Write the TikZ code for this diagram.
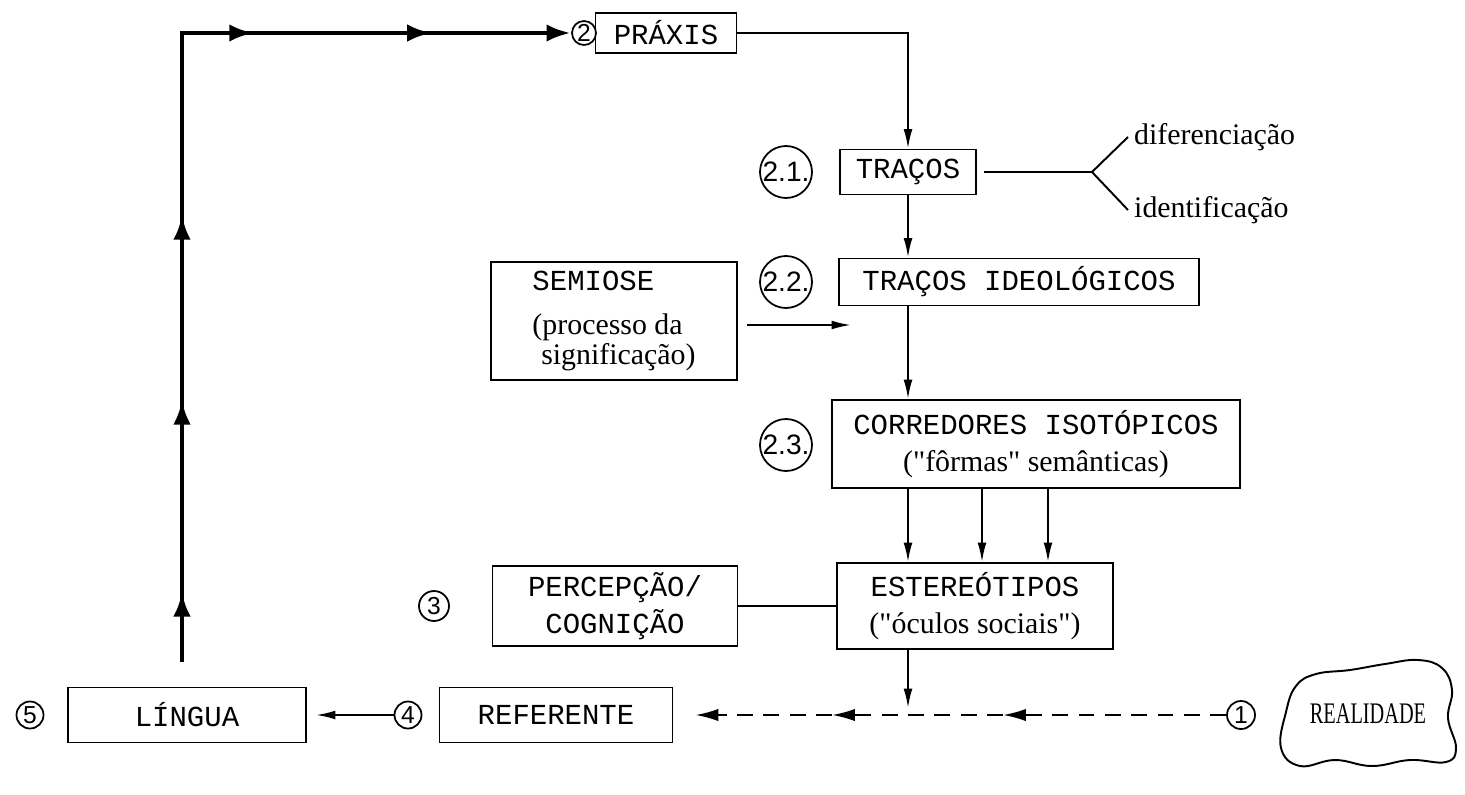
\documentclass[tikz,border=0pt]{standalone}
\usepackage{fontspec}
\usepackage{graphicx}
\setmainfont{Liberation Serif}
\setsansfont{Liberation Sans}
\setmonofont{Liberation Mono}
\usetikzlibrary{arrows.meta,positioning,decorations.markings}

\newcommand\pxu{0.02cm}
\newcommand\maq{\ttfamily\fontsize{16.5}{21}\selectfont}
\newcommand\cur{\rmfamily\fontsize{17}{19}\selectfont}

\tikzset{
  caixa/.style={draw,line width=1.1pt,align=center,inner sep=0pt,font=\maq},
  num/.style={draw,circle,line width=1pt,inner sep=0pt,font=\sffamily\fontsize{14}{14}\selectfont},
  numg/.style={num,minimum size=52*\pxu,font=\sffamily\fontsize{16}{16}\selectfont},
  seta/.style={line width=1.1pt,-{Latex[length=11pt,width=5pt]}},
  grossa/.style={line width=2.8pt,-{Latex[length=14pt,width=10pt]}},
  tracejada/.style={line width=1.2pt,dash pattern=on 9pt off 6pt,-{Latex[length=13pt,width=7pt]}}
}

\begin{document}
\begin{tikzpicture}[x=0.02cm,y=-0.02cm]
    \useasboundingbox (0,0) rectangle (1465,795);

    % topo
    \node[num,minimum size=24*\pxu] (n2) at (584,33) {2};
    \node[caixa,minimum width=141*\pxu,minimum height=40*\pxu] (praxis) at (666,33) {PRÁXIS};

    \node[numg] (n21) at (786,172) {2.1.};
    \node[caixa,minimum width=136*\pxu,minimum height=45*\pxu] (tracos) at (908,172) {TRAÇOS};
    \node[font=\cur,anchor=west] (dif) at (1128,137) {diferenciação};
    \node[font=\cur,anchor=west] (ide) at (1128,210) {identificação};
    \coordinate (bif) at (1092,172);

    \node[numg] (n22) at (786,282) {2.2.};
    \node[caixa,minimum width=360*\pxu,minimum height=47*\pxu] (tracosid) at (1019,282) {TRAÇOS IDEOLÓGICOS};

    \node[caixa,align=left,minimum width=246*\pxu,minimum height=118*\pxu] (semiose) at (614,321)
        {SEMIOSE\\[4pt]{\cur (processo da}\\[-4pt]{\cur\hspace*{5pt}significação)}};
    \coordinate (alvo) at (851,325);

    \node[numg] (n23) at (786,445) {2.3.};
    \node[caixa,minimum width=408*\pxu,minimum height=88*\pxu] (corredores) at (1036,444)
        {CORREDORES ISOTÓPICOS\\{\cur (\textquotedbl fôrmas\textquotedbl\ semânticas)}};

    % meio
    \node[num,minimum size=30*\pxu] (n3) at (434,606) {3};
    \node[caixa,minimum width=245*\pxu,minimum height=80*\pxu] (percepcao) at (615,606) {PERCEPÇÃO/\\COGNIÇÃO};
    \node[caixa,minimum width=276*\pxu,minimum height=86*\pxu] (estereo) at (975,606)
        {ESTEREÓTIPOS\\{\cur (\textquotedbl óculos sociais\textquotedbl)}};

    % base
    \node[num,minimum size=27*\pxu] (n5) at (30,715) {5};
    \node[caixa,minimum width=238*\pxu,minimum height=55*\pxu] (lingua) at (187,715) {LÍNGUA};
    \node[num,minimum size=27*\pxu] (n4) at (408,715) {4};
    \node[caixa,minimum width=233*\pxu,minimum height=55*\pxu] (referente) at (556,715) {REFERENTE};
    \node[num,minimum size=28*\pxu] (n1) at (1241,715) {1};
    \draw[line width=1.1pt] plot[smooth cycle,tension=0.7] coordinates {(1281,748) (1286,712) (1296,686)
        (1316,674) (1350,670) (1385,664) (1418,660) (1442,668) (1452,690) (1448,718) (1456,748)
        (1446,762) (1410,760) (1372,766) (1335,760) (1300,766)};
    \node[font=\cur] (realidade) at (1368,714) {\scalebox{0.68}[1]{REALIDADE}};

    % linha grossa
    \coordinate (base) at (182,662);
    \coordinate (canto) at (182,33);
    \draw[grossa,decoration={markings,
            mark=at position 1.4cm with {\arrow{Latex[length=14pt,width=10pt]}},
            mark=at position 5.24cm with {\arrow{Latex[length=14pt,width=10pt]}},
            mark=at position 8.94cm with {\arrow{Latex[length=14pt,width=10pt]}},
            mark=at position 14.02cm with {\arrow{Latex[length=14pt,width=10pt]}},
            mark=at position 17.58cm with {\arrow{Latex[length=14pt,width=10pt]}}},
        postaction={decorate}] (base) -- (canto) -- (n2);

    % setas
    \draw[seta] (praxis.east) -| (tracos.north);
    \draw[line width=1.1pt] ([xshift=1.5mm]tracos.east) -- (bif);
    \draw[line width=1.1pt] (dif.west) -- (bif) -- (ide.west);
    \draw[seta] (tracos.south) -- (tracos.south |- tracosid.north);
    \draw[seta] (tracos.south |- tracosid.south) -- (tracos.south |- corredores.north);
    \draw[seta] ([xshift=1.8mm]semiose.east |- alvo) -- (alvo);
    \foreach \xs in {908,982,1048}
        \draw[seta] (corredores.south -| \xs,0) -- (estereo.north -| \xs,0);
    \draw[line width=1.1pt] (percepcao) -- (estereo);
    \coordinate (cruz) at (908,708);
    \draw[seta] (estereo.south -| cruz) -- (cruz);

    \coordinate (t1) at (1003,715);
    \coordinate (t2) at (832,715);
    \draw[tracejada] (n1) -- (t1);
    \draw[tracejada] (t1) -- (t2);
    \draw[tracejada] (t2) -- ([xshift=4.4mm]referente.east);
    \draw[seta] (n4) -- ([xshift=1.8mm]lingua.east);
\end{tikzpicture}
\end{document}
